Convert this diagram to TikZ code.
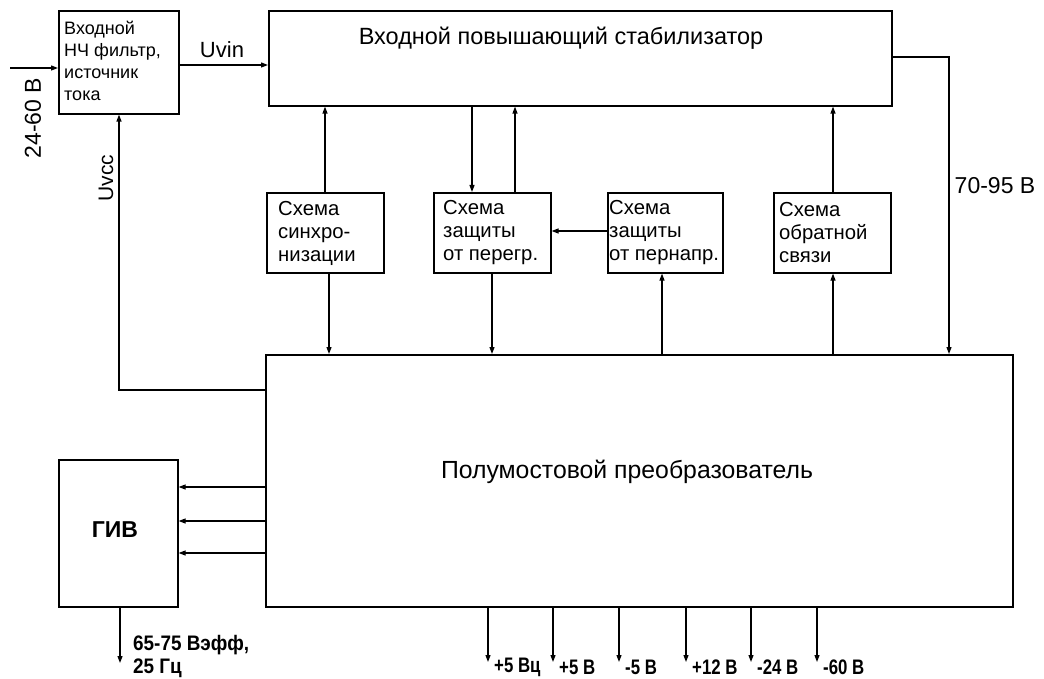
\documentclass[tikz,border=0pt]{standalone}
\usepackage{fontspec}
\setmainfont{Liberation Sans}
\newfontfamily\condb{Liberation Sans}[FakeStretch=0.8]
\newfontfamily\condc{Liberation Sans}[FakeStretch=0.9]
\usetikzlibrary{arrows.meta}
\begin{document}
\begin{tikzpicture}[x=1pt,y=-1pt,
  box/.style={draw, line width=1.6pt, anchor=north west, inner sep=0pt},
  arr/.style={line width=1.2pt, -{Triangle[length=7pt,width=5pt]}},
  lbl/.style={inner sep=0pt, font=\fontsize{22}{26}\selectfont},
  boxtxt/.style={inner sep=0pt, anchor=west, align=left, font=\fontsize{20.3}{23}\selectfont},
  outlbl/.style={inner sep=0pt, anchor=west, font=\condb\bfseries\fontsize{21}{23}\selectfont}]
\useasboundingbox (0,0) rectangle (1044,679);
% boxes
\node[box, minimum width=120pt, minimum height=103pt] (f1) at (58,10) {};
\node[box, minimum width=623pt, minimum height=95pt] (stab) at (268,10) {};
\node[box, minimum width=117pt, minimum height=80pt] (sync) at (266,192) {};
\node[box, minimum width=117pt, minimum height=80pt] (ovl) at (433,192) {};
\node[box, minimum width=115pt, minimum height=80pt] (ovv) at (607,192) {};
\node[box, minimum width=117pt, minimum height=80pt] (fb) at (773,192) {};
\node[box, minimum width=747pt, minimum height=252pt] (main) at (265,354) {};
\node[box, minimum width=119pt, minimum height=147pt] (giv) at (58,459) {};
% texts inside boxes
\node[boxtxt, font=\fontsize{18}{22}\selectfont] (f1t) at (64,61) {Входной\\НЧ фильтр,\\источник\\тока};
\node[inner sep=0pt, font=\fontsize{23.5}{26}\selectfont] (stabt) at (561,38) {Входной повышающий стабилизатор};
\node[boxtxt] (synct) at (278,233) {Схема\\синхро-\\низации};
\node[boxtxt] (ovlt) at (443,233) {Схема\\защиты\\от перегр.};
\node[boxtxt] (ovvt) at (609,233) {Схема\\защиты\\от пернапр.};
\node[boxtxt] (fbt) at (779,233) {Схема\\обратной\\связи};
\node[inner sep=0pt, font=\fontsize{24.8}{26}\selectfont] (maint) at (627,472) {Полумостовой преобразователь};
\node[inner sep=0pt, font=\bfseries\fontsize{23}{26}\selectfont] (givt) at (115,530) {ГИВ};
% input
\coordinate (inS) at (10,68);
\draw[arr] (inS) -- (f1.west |- inS);
\node[lbl, rotate=90, font=\fontsize{23}{26}\selectfont] (inl) at (33,118) {24-60 В};
% Uvin
\draw[arr] (f1.east |- 0,65) -- (stab.west |- 0,65);
\node[lbl] (uvin) at (222,50) {Uvin};
% 70-95
\draw[arr] (stab.east |- 0,57) -| (main.north -| 949,0);
\node[lbl, font=\fontsize{23}{26}\selectfont] (v7095) at (995,186) {70-95 В};
% Uvcc
\draw[arr] (main.west |- 0,390) -| (f1.south -| 119,0);
\node[lbl, rotate=90, font=\fontsize{21}{24}\selectfont] (uvcc) at (106,178) {Uvcc};
% sync
\draw[arr] (sync.north -| 325,0) -- (stab.south -| 325,0);
\draw[arr] (sync.south -| 329,0) -- (main.north -| 329,0);
% overload
\draw[arr] (stab.south -| 472,0) -- (ovl.north -| 472,0);
\draw[arr] (ovl.north -| 515,0) -- (stab.south -| 515,0);
\draw[arr] (ovl.south -| 492,0) -- (main.north -| 492,0);
% overvoltage
\draw[arr] (ovv.west |- 0,231) -- (ovl.east |- 0,231);
\draw[arr] (main.north -| 662,0) -- (ovv.south -| 662,0);
% feedback
\draw[arr] (main.north -| 833,0) -- (fb.south -| 833,0);
\draw[arr] (fb.north -| 833,0) -- (stab.south -| 833,0);
% to GIV
\foreach \yy in {487,521,553} \draw[arr] (main.west |- 0,\yy) -- (giv.east |- 0,\yy);
% GIV output
\coordinate (givo) at (120,663);
\draw[arr] (giv.south -| givo) -- (givo);
\node[outlbl, align=left, font=\condc\bfseries\fontsize{21}{23}\selectfont] (givl) at (133,656) {65-75 Вэфф,\\25 Гц};
% outputs
\foreach \xx/\tt/\nm in {488/+5 Вц/o1, 553/+5 В/o2, 619/-5 В/o3, 686/+12 В/o4, 751/-24 В/o5, 817/-60 В/o6} {
  \coordinate (\nm) at (\xx,662);
  \draw[arr] (main.south -| \nm) -- (\nm);
  \node[outlbl] (\nm l) at (\xx+6,667) {\tt};
}
\end{tikzpicture}
\end{document}
